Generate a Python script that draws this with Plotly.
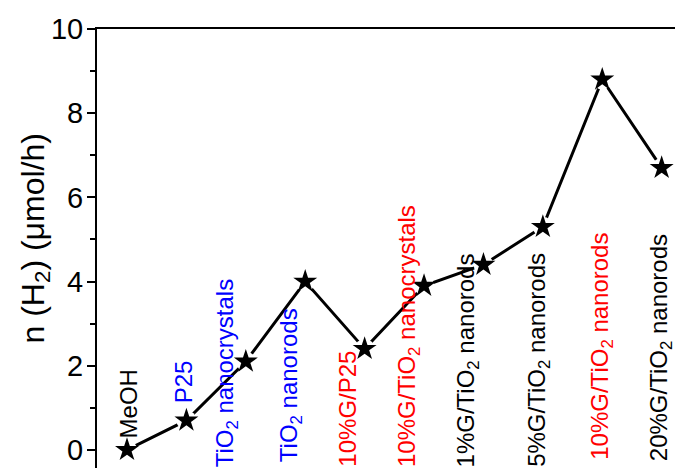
import plotly.graph_objects as go

# ---- data ----
categories = ["MeOH", "P25", "TiO<sub>2</sub> nanocrystals", "TiO<sub>2</sub> nanorods",
              "10%G/P25", "10%G/TiO<sub>2</sub> nanocrystals", "1%G/TiO<sub>2</sub> nanorods",
              "5%G/TiO<sub>2</sub> nanorods", "10%G/TiO<sub>2</sub> nanorods", "20%G/TiO<sub>2</sub> nanorods"]
h2_rate = [0.0, 0.7, 2.1, 4.0, 2.4, 3.9, 4.4, 5.3, 8.8, 6.7]
label_colors = ["#000000", "#0000FF", "#0000FF", "#0000FF", "#FF0000",
                "#FF0000", "#000000", "#000000", "#FF0000", "#000000"]
y_ticks = [0, 2, 4, 6, 8, 10]

# ---- label placement (pixels) ----
label_xshift = [1, -2, -19, -15, -18, -16, -16, -5, -1, -1]
label_yshift = [10, 16, 0, 5, 0, 0, 0, 0, 7, 6]
label_above = [True, True, False, False, False, False, False, False, False, False]

FONT = "Arial, Liberation Sans, sans-serif"
YMIN, YMAX = -0.43, 10.0
xs = list(range(len(categories)))

fig = go.Figure()
fig.add_trace(go.Scatter(x=xs, y=h2_rate, mode="lines",
                         line=dict(color="black", width=3), hoverinfo="skip"))
fig.add_trace(go.Scatter(x=xs, y=h2_rate, mode="markers",
                         marker=dict(symbol="circle", size=20, color="white"), hoverinfo="skip"))
fig.add_trace(go.Scatter(x=xs, y=h2_rate, mode="markers",
                         marker=dict(symbol="star", size=18, color="black", line=dict(width=0))))

for i, (lab, col) in enumerate(zip(categories, label_colors)):
    y = h2_rate[i] if label_above[i] else YMIN
    fig.add_annotation(x=xs[i], y=y, text=lab, textangle=-90, showarrow=False,
                       xanchor="center", yanchor="bottom", xshift=label_xshift[i],
                       yshift=label_yshift[i],
                       font=dict(family=FONT, size=24, color=col), borderpad=0)

fig.add_annotation(xref="paper", yref="paper", x=0, y=0.5, xshift=-62, yshift=10,
                   text="n (H<sub>2</sub>) (μmol/h)", textangle=-90, showarrow=False,
                   xanchor="center", yanchor="middle",
                   font=dict(family=FONT, size=32, color="black"))

# page body has an 8px margin: figure is 675x460 so it fills the 683x468 window
fig.update_layout(
    width=675, height=460,
    margin=dict(l=89, r=0, t=21, b=0),
    paper_bgcolor="white", plot_bgcolor="white",
    showlegend=False,
    xaxis=dict(range=[-0.505, 9.359], side="top", showline=True, linecolor="black", linewidth=2,
               showticklabels=False, ticks="", showgrid=False, zeroline=False),
    yaxis=dict(range=[YMIN, YMAX], showline=True, linecolor="black", linewidth=2,
               tickmode="array", tickvals=y_ticks, ticks="outside", ticklen=8, tickwidth=1.5,
               tickcolor="black", showgrid=False, zeroline=False, ticklabelstandoff=-2,
               tickfont=dict(family=FONT, size=29, color="black"),
               minor=dict(dtick=1, ticks="outside", ticklen=5, tickwidth=1.5, tickcolor="black",
                          showgrid=False)),
)

fig.write_html("out.html")
